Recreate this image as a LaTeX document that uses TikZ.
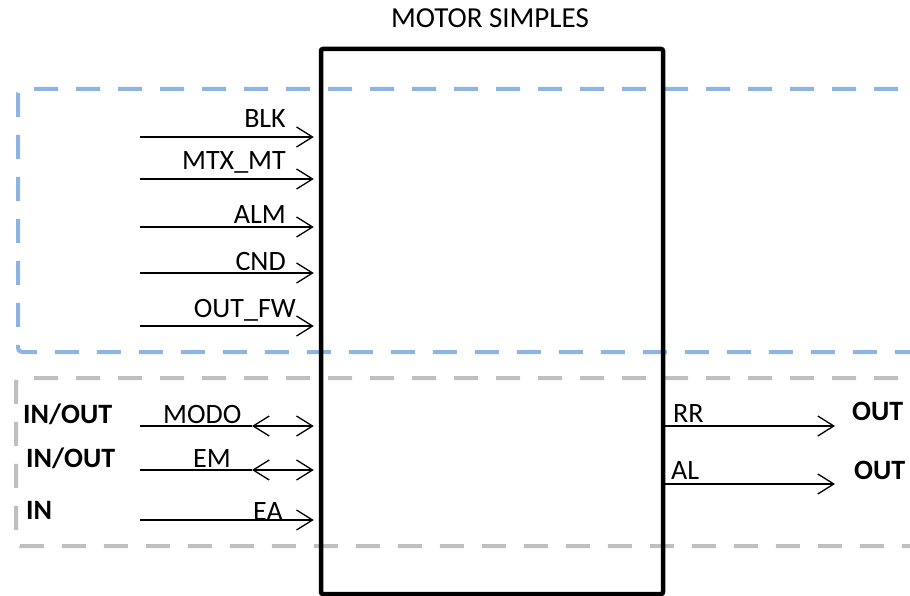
\documentclass[tikz,border=0pt]{standalone}
\usepackage{fontspec}
\setmainfont{Carlito}
\usepackage{tikz}
\usepackage{xcolor}
\usetikzlibrary{arrows.meta,positioning,calc}

\definecolor{grpblue}{RGB}{141,180,226}
\definecolor{grpgray}{RGB}{191,191,191}

\begin{document}
\begin{tikzpicture}[
    x=1pt, y=-1pt,
    block/.style={rectangle, draw, line width=4.5pt, rounded corners=2pt, minimum width=342pt, minimum height=545pt, inner sep=0pt},
    grpbox/.style={line width=4pt, dash pattern=on 24pt off 18pt, rounded corners=4pt},
    sig/.style={anchor=base east, inner sep=0pt, font=\fontsize{28}{32}\selectfont},
    sigl/.style={anchor=base west, inner sep=0pt, font=\fontsize{28}{32}\selectfont},
    dir/.style={anchor=base west, inner sep=0pt, font=\fontsize{28}{32}\selectfont\bfseries},
    arr/.style={line width=1.3pt, -{Straight Barb[length=16pt, width=20pt, line width=1.3pt]}},
    barr/.style={line width=1.3pt, {Straight Barb[length=16pt, width=20pt, line width=1.3pt]}-{Straight Barb[length=16pt, width=20pt, line width=1.3pt]}}
]
    \useasboundingbox (0,0) rectangle (910,596);
    \clip (0,0) rectangle (910,596);

    % Groups
    \draw[grpbox, grpblue] (940,89) -- (18,89) -- (18,352) -- (940,352);
    \draw[grpbox, grpgray] (940,378) -- (16,378) -- (16,546) -- (940,546);

    % Block
    \node[block] (motor) at (492,321.5) {};
    \node[anchor=base, inner sep=0pt, font=\fontsize{29}{33}\selectfont] (title) at (490,28) {MOTOR SIMPLES};

    % Inputs
    \coordinate (blkS) at (140,137);
    \coordinate (mtxS) at (140,179);
    \coordinate (almS) at (140,227);
    \coordinate (cndS) at (140,273);
    \coordinate (fwS) at (140,326);
    \draw[arr, shorten >=5pt] (blkS) -- (blkS -| motor.west);
    \draw[arr, shorten >=5pt] (mtxS) -- (mtxS -| motor.west);
    \draw[arr, shorten >=5pt] (almS) -- (almS -| motor.west);
    \draw[arr, shorten >=5pt] (cndS) -- (cndS -| motor.west);
    \draw[arr, shorten >=5pt] (fwS) -- (fwS -| motor.west);
    \node[sig] (blk) at (286,128) {BLK};
    \node[sig] (mtx) at (286,170) {MTX\_MT};
    \node[sig] (alm) at (286,224) {ALM};
    \node[sig] (cnd) at (286,270) {CND};
    \node[sig] (outfw) at (296,317) {OUT\_FW};

    % In/out signals
    \coordinate (modoS) at (140,426);
    \coordinate (modoM) at (252,426);
    \coordinate (emS) at (140,470);
    \coordinate (emM) at (252,470);
    \coordinate (eaS) at (140,520);
    \draw[line width=1.3pt] (modoS) -- (modoM);
    \draw[barr, shorten >=5pt] (modoM) -- (modoM -| motor.west);
    \draw[line width=1.3pt] (emS) -- (emM);
    \draw[barr, shorten >=5pt] (emM) -- (emM -| motor.west);
    \draw[arr, shorten >=5pt] (eaS) -- (eaS -| motor.west);
    \node[sigl] (modo) at (163,423) {MODO};
    \node[sigl] (em) at (193,467) {EM};
    \node[sigl] (ea) at (253,520) {EA};
    \node[dir] (dmodo) at (23,423) {IN/OUT};
    \node[dir] (dem) at (26,467) {IN/OUT};
    \node[dir] (dea) at (26,519) {IN};

    % Outputs
    \coordinate (rrE) at (835,426);
    \coordinate (alE) at (835,484);
    \draw[arr] (rrE -| motor.east) -- (rrE);
    \draw[arr] (alE -| motor.east) -- (alE);
    \node[sigl] (rr) at (673,422) {RR};
    \node[sigl] (al) at (671,479) {AL};
    \node[dir] (drr) at (852,420) {OUT};
    \node[dir] (dal) at (854,479) {OUT};
\end{tikzpicture}
\end{document}
